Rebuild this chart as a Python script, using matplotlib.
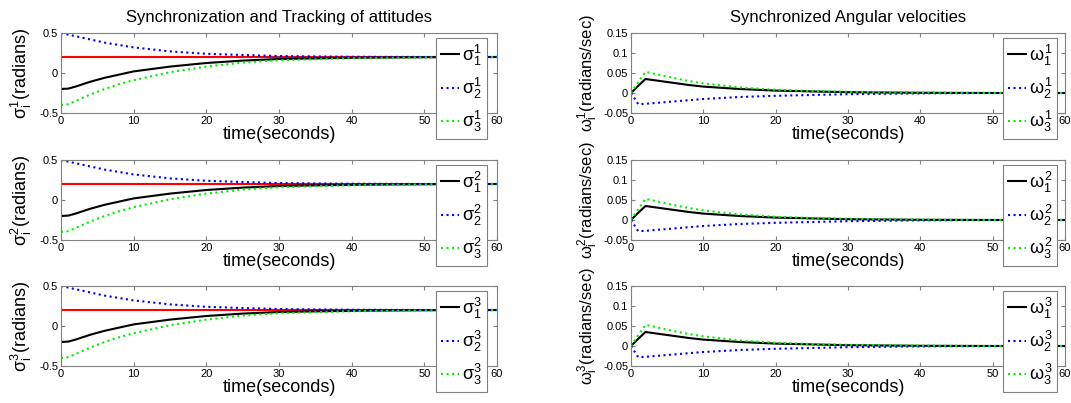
import numpy as np
import matplotlib
matplotlib.use('Agg')
import matplotlib.pyplot as plt

plt.rcParams['font.family'] = ['Liberation Sans', 'DejaVu Sans']
plt.rcParams['mathtext.fontset'] = 'custom'
plt.rcParams['mathtext.rm'] = 'Liberation Sans'
plt.rcParams['mathtext.it'] = 'Liberation Sans'

# attitude samples (same for each of the three components)
t_sig = [0, 1, 2, 4, 6, 8, 10, 15, 20, 25, 30, 40, 50, 60]
sig1 = [-0.2, -0.195, -0.17, -0.11, -0.06, -0.02, 0.02, 0.08, 0.125, 0.155, 0.175, 0.19, 0.197, 0.2]
sig2 = [0.5, 0.48, 0.46, 0.42, 0.38, 0.35, 0.32, 0.27, 0.24, 0.225, 0.212, 0.203, 0.2, 0.2]
sig3 = [-0.4, -0.39, -0.35, -0.27, -0.2, -0.14, -0.09, 0.01, 0.08, 0.13, 0.16, 0.185, 0.195, 0.2]
sig_ref = 0.2

# angular velocity samples
t_om = [0, 1, 2, 4, 6, 8, 10, 15, 20, 25, 30, 40, 50, 60]
om1 = [0, 0.018, 0.035, 0.03, 0.025, 0.02, 0.016, 0.01, 0.006, 0.004, 0.002, 0.0005, 0.0, 0.0]
om2 = [0, -0.028, -0.027, -0.024, -0.021, -0.018, -0.015, -0.01, -0.007, -0.005, -0.003, -0.001, 0.0, 0.0]
om3 = [0, 0.027, 0.053, 0.045, 0.037, 0.03, 0.024, 0.014, 0.008, 0.005, 0.003, 0.001, 0.0, 0.0]

W, H = 1071, 403
fig = plt.figure(figsize=(W / 100, H / 100), dpi=100)

rows_top = [33, 160, 286]
ax_h = 80
left_x, left_w = 61, 436
right_x, right_w = 631, 434
gray = '#808080'


def style(ax):
    for s in ax.spines.values():
        s.set_color(gray)
    ax.tick_params(direction='in', top=True, right=True, color=gray,
                   labelsize=8, length=3, pad=2)
    ax.set_xlim(0, 60)
    ax.set_xticks([0, 10, 20, 30, 40, 50, 60])


def legend(ax, xpix, ytop):
    handles, labels = ax.get_legend_handles_labels()
    leg = ax.legend(handles, labels, loc='upper left',
                    bbox_to_anchor=(xpix / W, 1 - (ytop + 5) / H),
                    bbox_transform=fig.transFigure,
                    fontsize=13, handlelength=1.0, handletextpad=0.2,
                    labelspacing=0.45, borderpad=0.25, fancybox=False,
                    framealpha=1, edgecolor=gray, borderaxespad=0)
    leg.get_frame().set_linewidth(0.8)
    leg.set_clip_on(False)


for k in range(3):
    y0 = 1 - (rows_top[k] + ax_h) / H
    ax = fig.add_axes([left_x / W, y0, left_w / W, ax_h / H])
    style(ax)
    ax.axhline(sig_ref, color='red', lw=1.5)
    ax.plot(t_sig, sig1, color='black', lw=1.5, label=r'$\sigma^{%d}_{1}$' % (k + 1))
    ax.plot(t_sig, sig2, color='blue', lw=1.5, ls=':', label=r'$\sigma^{%d}_{2}$' % (k + 1))
    ax.plot(t_sig, sig3, color='#00ee00', lw=1.5, ls=':', label=r'$\sigma^{%d}_{3}$' % (k + 1))
    ax.set_ylim(-0.5, 0.5)
    ax.set_yticks([-0.5, 0, 0.5])
    ax.set_yticklabels(['-0.5', '0', '0.5'])
    ax.set_xlabel('time(seconds)', fontsize=13, labelpad=0)
    ax.set_ylabel(r'$\sigma_i^%d$(radians)' % (k + 1), fontsize=13, labelpad=4)
    legend(ax, 436, rows_top[k])
    if k == 0:
        ax.set_title('Synchronization and Tracking of attitudes', fontsize=12, pad=8)

    ax = fig.add_axes([right_x / W, y0, right_w / W, ax_h / H])
    style(ax)
    ax.plot(t_om, om1, color='black', lw=1.5, label=r'$\omega^{%d}_{1}$' % (k + 1))
    ax.plot(t_om, om2, color='blue', lw=1.5, ls=':', label=r'$\omega^{%d}_{2}$' % (k + 1))
    ax.plot(t_om, om3, color='#00ee00', lw=1.5, ls=':', label=r'$\omega^{%d}_{3}$' % (k + 1))
    ax.set_ylim(-0.05, 0.15)
    ax.set_yticks([-0.05, 0, 0.05, 0.1, 0.15])
    ax.set_yticklabels(['-0.05', '0', '0.05', '0.1', '0.15'])
    ax.set_xlabel('time(seconds)', fontsize=13, labelpad=0)
    ax.set_ylabel(r'$\omega_i^%d$(radians/sec)' % (k + 1), fontsize=12, labelpad=2)
    legend(ax, 1003, rows_top[k])
    if k == 0:
        ax.set_title('Synchronized Angular velocities', fontsize=12, pad=8)

fig.savefig('out.png', dpi=100)
